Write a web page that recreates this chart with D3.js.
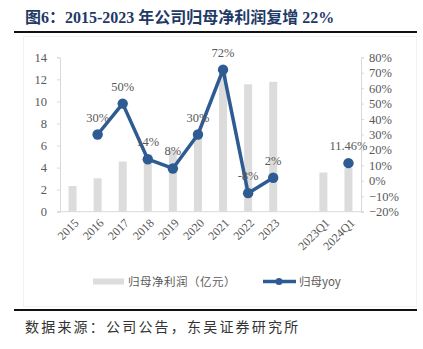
<!DOCTYPE html>
<html>
<head>
<meta charset="utf-8">
<script src="https://cdn.jsdelivr.net/npm/d3@7"></script>
<style>
  html, body { margin: 0; padding: 0; background: #fff; }
  svg { display: block; }
</style>
</head>
<body>
<svg id="chart" width="423" height="349"></svg>
<script>
// Net profit attributable to parent (亿元) and its YoY growth
const categories = ["2015", "2016", "2017", "2018", "2019", "2020", "2021", "2022", "2023", "", "2023Q1", "2024Q1"];
const profit = [2.33, 3.03, 4.55, 5.19, 5.6, 7.3, 12.55, 11.55, 11.78, null, 3.55, 3.96];
const yoy = [null, 0.30, 0.50, 0.14, 0.08, 0.30, 0.72, -0.08, 0.02, null, null, 0.1146];
const yoyLabels = [null, "30%", "50%", "14%", "8%", "30%", "72%", "-8%", "2%", null, null, "11.46%"];
const leftTicks = [0, 2, 4, 6, 8, 10, 12, 14];
const rightTicks = [-0.2, -0.1, 0, 0.1, 0.2, 0.3, 0.4, 0.5, 0.6, 0.7, 0.8];

const svg = d3.select("#chart");
const serif = "'Liberation Serif', 'Times New Roman', serif";
const cjk = "'Noto Sans CJK SC', 'Noto Sans', sans-serif";
const grey = "#595959";
const lineBlue = "#2F5B93";
const barGrey = "#DCDCDC";
const axisGrey = "#D9D9D9";

const plot = { left: 60, right: 361, top: 57.3, bottom: 211.7 };

// faint frame of the chart area
svg.append("rect")
  .attr("x", 23.5).attr("y", 36.5).attr("width", 393).attr("height", 270)
  .attr("fill", "none").attr("stroke", "#F2F2F2").attr("stroke-width", 1);

// title and rules
svg.append("text")
  .attr("x", 25).attr("y", 23)
  .attr("fill", "#1F3A66")
  .attr("font-family", serif + ", " + cjk)
  .attr("font-weight", "bold")
  .attr("font-size", 16)
  .text("图6：2015-2023 年公司归母净利润复增 22%");
svg.append("line").attr("x1", 14).attr("x2", 417).attr("y1", 32).attr("y2", 32)
  .attr("stroke", "#111").attr("stroke-width", 2);
svg.append("line").attr("x1", 14).attr("x2", 417).attr("y1", 310).attr("y2", 310)
  .attr("stroke", "#111").attr("stroke-width", 2);
svg.append("text")
  .attr("x", 25).attr("y", 332)
  .attr("fill", "#333")
  .attr("font-family", cjk)
  .attr("font-size", 14)
  .attr("letter-spacing", 2.2)
  .text("数据来源：公司公告，东吴证券研究所");

const x = d3.scaleBand().domain(d3.range(categories.length)).range([plot.left, plot.right]).paddingInner(0).paddingOuter(0);
const yL = d3.scaleLinear().domain([0, 14]).range([plot.bottom, plot.top]);
const yR = d3.scaleLinear().domain([-0.2, 0.8]).range([plot.bottom, plot.top]);
const barW = 8;

// axes
const leftAxis = d3.axisLeft(yL).tickValues(leftTicks).tickSize(3).tickPadding(10).tickFormat(d3.format("d"));
const gL = svg.append("g").attr("transform", `translate(${plot.left},0)`).call(leftAxis);
const rightAxis = d3.axisRight(yR).tickValues(rightTicks).tickSize(3).tickPadding(5).tickFormat(d3.format(".0%"));
const gR = svg.append("g").attr("transform", `translate(${plot.right},0)`).call(rightAxis);
[gL, gR].forEach(g => {
  g.select(".domain").attr("stroke", axisGrey);
  g.selectAll(".tick line").attr("stroke", axisGrey);
  g.selectAll(".tick text").attr("fill", grey).attr("font-family", serif).attr("font-size", 12.5);
});

// bars
svg.append("g").selectAll("rect")
  .data(profit.map((v, i) => ({ v, i })).filter(d => d.v != null))
  .join("rect")
  .attr("x", d => x(d.i) + x.bandwidth() / 2 - barW / 2)
  .attr("width", barW)
  .attr("y", d => yL(d.v))
  .attr("height", d => yL(0) - yL(d.v))
  .attr("fill", barGrey);

// category axis
svg.append("line").attr("x1", plot.left - 3).attr("x2", plot.right + 3)
  .attr("y1", plot.bottom).attr("y2", plot.bottom)
  .attr("stroke", axisGrey).attr("stroke-width", 1);
svg.append("g").selectAll("text")
  .data(categories.map((c, i) => ({ c, i })).filter(d => d.c))
  .join("text")
  .attr("transform", d => `translate(${x(d.i) + x.bandwidth() / 2 + 4},${plot.bottom + 9}) rotate(-45)`)
  .attr("text-anchor", "end")
  .attr("dy", "0.35em")
  .attr("fill", grey).attr("font-family", serif).attr("font-size", 12)
  .text(d => d.c);

// yoy line
const pts = yoy.map((v, i) => ({ v, i, label: yoyLabels[i] }));
const line = d3.line()
  .defined(d => d.v != null)
  .x(d => x(d.i) + x.bandwidth() / 2)
  .y(d => yR(d.v));
svg.append("path")
  .datum(pts)
  .attr("d", line)
  .attr("fill", "none").attr("stroke", lineBlue).attr("stroke-width", 3.5)
  .attr("stroke-linejoin", "round");
const valid = pts.filter(d => d.v != null);
svg.append("g").selectAll("circle")
  .data(valid).join("circle")
  .attr("cx", d => x(d.i) + x.bandwidth() / 2)
  .attr("cy", d => yR(d.v))
  .attr("r", 5.2)
  .attr("fill", lineBlue);
svg.append("g").selectAll("text")
  .data(valid).join("text")
  .attr("x", d => x(d.i) + x.bandwidth() / 2)
  .attr("y", d => yR(d.v) - 13)
  .attr("text-anchor", "middle")
  .attr("fill", grey).attr("font-family", serif).attr("font-size", 12.5)
  .text(d => d.label);

// legend
const lg = svg.append("g");
lg.append("rect").attr("x", 93).attr("y", 278.5).attr("width", 31).attr("height", 6).attr("fill", barGrey);
lg.append("text").attr("x", 128).attr("y", 282).attr("dy", "0.35em")
  .attr("fill", grey).attr("font-family", cjk).attr("font-size", 11.5).attr("letter-spacing", 0.5)
  .text("归母净利润（亿元）");
lg.append("line").attr("x1", 263).attr("x2", 296).attr("y1", 281.5).attr("y2", 281.5)
  .attr("stroke", lineBlue).attr("stroke-width", 3.5);
lg.append("circle").attr("cx", 279).attr("cy", 281.5).attr("r", 3.5).attr("fill", lineBlue);
lg.append("text").attr("x", 299).attr("y", 282).attr("dy", "0.35em")
  .attr("fill", grey).attr("font-family", cjk + ", " + serif).attr("font-size", 11.5)
  .text("归母yoy");
</script>
</body>
</html>
